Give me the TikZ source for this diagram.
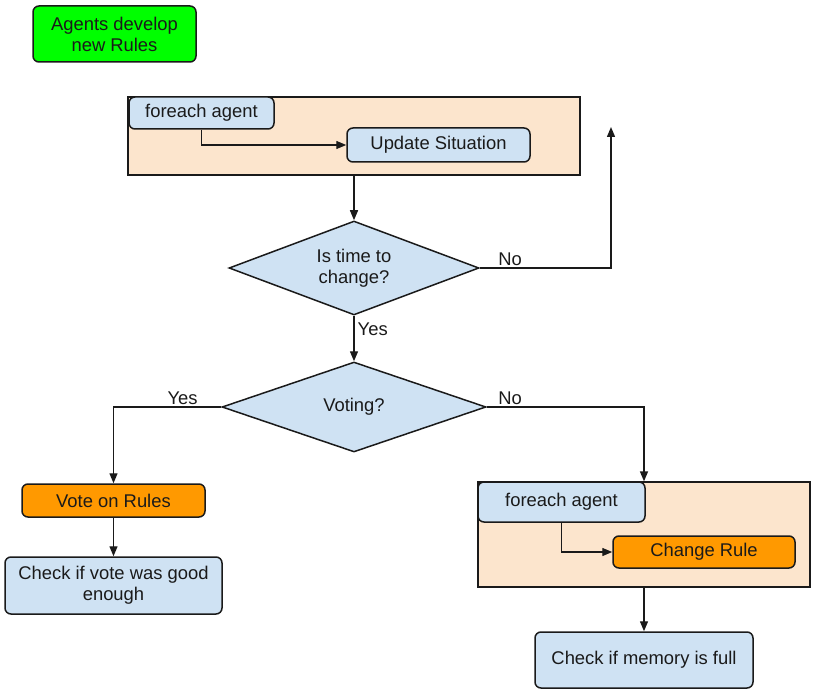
\documentclass[tikz,border=0pt]{standalone}
\usepackage{fontspec}
\setmainfont{Liberation Sans}
\usetikzlibrary{arrows.meta,shapes.geometric}
\definecolor{lblue}{HTML}{CFE2F3}
\definecolor{peach}{HTML}{FCE5CD}
\definecolor{orng}{HTML}{FF9900}
\definecolor{grn}{HTML}{00FF00}
\definecolor{ink}{HTML}{1A1A1A}
\tikzset{
  base/.style={draw=ink, line width=1.5pt, text=ink, inner sep=0pt, align=center,
    font=\fontsize{18.4}{21}\selectfont},
  rbox/.style={base, rectangle, rounded corners=6pt},
  bluebox/.style={rbox, fill=lblue},
  orangebox/.style={rbox, fill=orng},
  greenbox/.style={rbox, fill=grn},
  container/.style={draw=ink, line width=1.3pt, fill=peach, rectangle, inner sep=0pt},
  decision/.style={base, diamond, aspect=2.7, fill=lblue},
  conn/.style={draw=ink, line width=1.4pt, -{Triangle[length=10pt,width=8pt]}},
  lbl/.style={text=ink, inner sep=1pt, font=\fontsize{18.4}{21}\selectfont}
}
\begin{document}
\begin{tikzpicture}[x=1pt,y=-1pt]
\useasboundingbox (0,0) rectangle (817,695);
% start
\node[greenbox, minimum width=163pt, minimum height=56pt] (start) at (114.5,34) {Agents develop\\new Rules};
% top loop
\node[container, minimum width=452pt, minimum height=78pt] (c1) at (354,136) {};
\node[bluebox, minimum width=145pt, minimum height=32pt] (fa1) at (201.5,113) {foreach agent};
\node[bluebox, minimum width=183pt, minimum height=34pt] (us) at (438.5,145) {Update Situation};
% decisions
\node[decision, minimum width=250pt, minimum height=94pt] (d1) at (354,268) {Is time to\\change?};
\node[decision, minimum width=264pt, minimum height=90pt] (d2) at (354,407) {Voting?};
% left branch
\node[orangebox, minimum width=183pt, minimum height=33pt] (vote) at (113.5,500.5) {Vote on Rules};
\node[bluebox, minimum width=217pt, minimum height=57pt] (chk) at (113.5,585.5) {Check if vote was good\\enough};
% right branch
\node[container, minimum width=332pt, minimum height=105pt] (c2) at (644,534.5) {};
\node[bluebox, minimum width=167pt, minimum height=40pt] (fa2) at (561.5,502) {foreach agent};
\node[orangebox, minimum width=182pt, minimum height=32pt] (cr) at (704,552) {Change Rule};
\node[bluebox, minimum width=218pt, minimum height=56pt] (mem) at (644,660) {Check if memory is full};
\coordinate (back) at (611,127);
% connectors
\draw[conn] (fa1.south) |- (us.west);
\draw[conn] (c1.south) -- (d1.north);
\draw[conn] (d1.east) -| node[lbl, pos=0, anchor=south west, xshift=17pt, yshift=1pt] {No} (back);
\draw[conn] (d1.south) -- node[lbl, pos=0, anchor=north west, xshift=2pt, yshift=-5pt] {Yes} (d2.north);
\draw[conn] (d2.west) -| node[lbl, pos=0, anchor=south east, xshift=-22pt, yshift=1pt] {Yes} (vote.north);
\draw[conn] (d2.east) -| node[lbl, pos=0, anchor=south west, xshift=10pt, yshift=1pt] {No} (c2.north);
\draw[conn] (vote.south) -- (chk.north);
\draw[conn] (fa2.south) |- (cr.west);
\draw[conn] (c2.south) -- (mem.north);
\end{tikzpicture}
\end{document}
